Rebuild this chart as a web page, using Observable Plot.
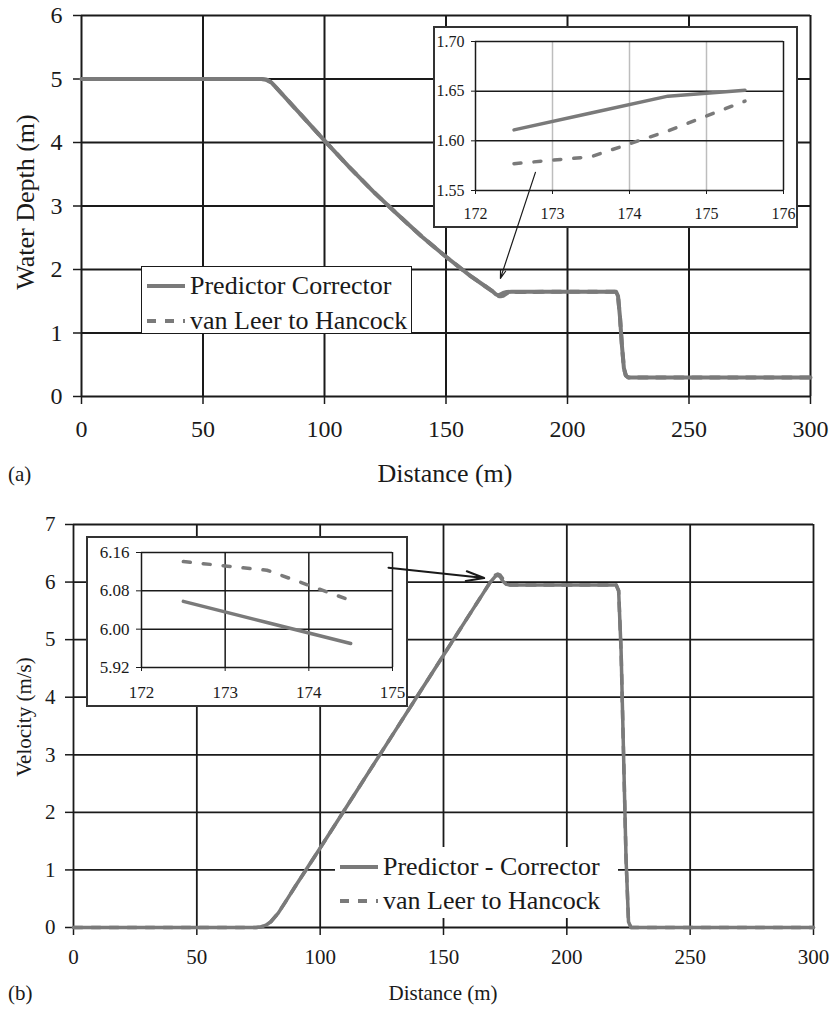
<!DOCTYPE html>
<html>
<head>
<meta charset="utf-8">
<script src="https://cdn.jsdelivr.net/npm/d3@7"></script>
<script src="https://cdn.jsdelivr.net/npm/@observablehq/plot@0.6"></script>
<style>
  body { margin: 0; background: #fff; }
  #fig { position: relative; width: 831px; height: 1009px; overflow: hidden;
         font-family: "Liberation Serif", "Times New Roman", serif; color: #1a1a1a; }
  .layer { position: absolute; }
  .layer svg { display: block; max-width: none; overflow: visible; }
  .txt { position: absolute; white-space: nowrap; line-height: 1; font-family: "Liberation Serif", serif; }
  .legend { position: absolute; background: #fff; box-sizing: border-box; font-family: "Liberation Serif", serif; }
  .legend .row { position: absolute; left: 0; display: flex; align-items: center; white-space: nowrap; line-height: 1; }
  .legend svg { display: block; }
</style>
</head>
<body>
<div id="fig"></div>
<script>
// ---------- (a) water depth along the channel ----------
const distA   = [0, 50, 74, 76, 78, 80, 85, 90, 100, 110, 120, 130, 140, 150, 160, 166, 169, 170.5, 171.5, 172.5, 173.5, 175, 177, 200, 220, 220.8, 221.6, 222.4, 223.2, 224, 225, 250, 300];
const depthPC = [5, 5, 5, 4.99, 4.95, 4.87, 4.66, 4.45, 4.03, 3.62, 3.23, 2.87, 2.52, 2.20, 1.90, 1.74, 1.66, 1.61, 1.59, 1.61, 1.63, 1.645, 1.65, 1.65, 1.65, 1.58, 1.25, 0.80, 0.45, 0.33, 0.30, 0.30, 0.30];
const depthVL = [5, 5, 5, 4.99, 4.95, 4.87, 4.66, 4.45, 4.03, 3.62, 3.23, 2.87, 2.52, 2.20, 1.90, 1.74, 1.66, 1.60, 1.58, 1.578, 1.585, 1.625, 1.645, 1.65, 1.65, 1.58, 1.25, 0.80, 0.45, 0.33, 0.30, 0.30, 0.30];
const xTicksA = [0, 50, 100, 150, 200, 250, 300];
const yTicksA = [0, 1, 2, 3, 4, 5, 6];

// zoomed window around the depression near 172-176 m
const zoomDistA = [172.5, 173.5, 174.5, 175.5];
const zoomDepthPC = [1.611, 1.628, 1.645, 1.651];
const zoomDepthVL = [1.577, 1.584, 1.610, 1.640];
const zoomXTicksA = [172, 173, 174, 175, 176];
const zoomYTicksA = [1.55, 1.60, 1.65, 1.70];

// ---------- (b) velocity along the channel ----------
const distB  = [0, 50, 74, 76, 78, 80, 83, 86, 90, 100, 110, 120, 130, 140, 150, 160, 166, 169, 171, 172, 173, 174, 175.5, 177, 200, 220, 221, 222, 223, 224, 225, 226, 250, 300];
const velPC  = [0, 0, 0, 0.01, 0.04, 0.10, 0.25, 0.45, 0.72, 1.38, 2.05, 2.72, 3.39, 4.06, 4.73, 5.40, 5.80, 6.00, 6.10, 6.12, 6.09, 6.02, 5.96, 5.95, 5.95, 5.95, 5.85, 4.80, 3.00, 1.20, 0.10, 0, 0, 0];
const velVL  = [0, 0, 0, 0.01, 0.04, 0.10, 0.25, 0.45, 0.72, 1.38, 2.05, 2.72, 3.39, 4.06, 4.73, 5.40, 5.80, 6.00, 6.12, 6.14, 6.12, 6.06, 5.97, 5.95, 5.95, 5.95, 5.85, 4.80, 3.00, 1.20, 0.10, 0, 0, 0];
const xTicksB = [0, 50, 100, 150, 200, 250, 300];
const yTicksB = [0, 1, 2, 3, 4, 5, 6, 7];

const zoomDistB = [172.5, 173.5, 174.5];
const zoomVelPC = [6.058, 6.014, 5.970];
const zoomVelVL = [6.141, 6.123, 6.060];
const zoomXTicksB = [172, 173, 174, 175];
const zoomYTicksB = [5.92, 6.00, 6.08, 6.16];

// series names
const seriesA = ["Predictor Corrector", "van Leer to Hancock"];
const seriesB = ["Predictor - Corrector", "van Leer to Hancock"];

// callout arrows from each zoom window to the feature it enlarges
const calloutA = [{x1: 186.8, y1: 3.53, x2: 172.4, y2: 1.86}];
const calloutB = [{x1: 127.7, y1: 6.25, x2: 166.5, y2: 6.07}];

// ---------- drawing ----------
const ink = "#1a1a1a";
const curve = "#7a7a7a";
const font = "Liberation Serif";
const fig = document.getElementById("fig");
const intFmt = d3.format("d");
const twoDp = d3.format(".2f");

const rowsA = distA.map((x, i) => ({x, pc: depthPC[i], vl: depthVL[i]}));
const rowsB = distB.map((x, i) => ({x, pc: velPC[i], vl: velVL[i]}));
const zRowsA = zoomDistA.map((x, i) => ({x, pc: zoomDepthPC[i], vl: zoomDepthVL[i]}));
const zRowsB = zoomDistB.map((x, i) => ({x, pc: zoomVelPC[i], vl: zoomVelVL[i]}));

function place(node, left, top) {
  const d = document.createElement("div");
  d.className = "layer";
  d.style.left = left + "px";
  d.style.top = top + "px";
  d.appendChild(node);
  fig.appendChild(d);
  return d;
}
function text(str, left, top, size, extra = "") {
  const d = document.createElement("div");
  d.className = "txt";
  d.textContent = str;
  d.style.cssText += `left:${left}px;top:${top}px;font-size:${size}px;${extra}`;
  fig.appendChild(d);
  return d;
}
function sample(dashed, w, sw) {
  const ns = "http://www.w3.org/2000/svg";
  const s = document.createElementNS(ns, "svg");
  s.setAttribute("width", w); s.setAttribute("height", 10);
  const l = document.createElementNS(ns, "line");
  l.setAttribute("x1", 0); l.setAttribute("x2", w);
  l.setAttribute("y1", 5); l.setAttribute("y2", 5);
  l.setAttribute("stroke", curve); l.setAttribute("stroke-width", sw);
  if (dashed) l.setAttribute("stroke-dasharray", "9,9");
  s.appendChild(l);
  return s;
}
function legend(names, left, top, w, h, rowCenters, size, bordered) {
  const box = document.createElement("div");
  box.className = "legend";
  box.style.cssText += `left:${left}px;top:${top}px;width:${w}px;height:${h}px;` +
    (bordered ? `border:1.5px solid ${ink};` : "");
  names.forEach((name, i) => {
    const row = document.createElement("div");
    row.className = "row";
    row.style.top = (rowCenters[i] - top - size / 2) + "px";
    row.style.height = size + "px";
    row.style.fontSize = size + "px";
    row.style.paddingLeft = "5px";
    const sw = sample(i === 1, 38, 4);
    sw.style.marginRight = "5px";
    row.appendChild(sw);
    row.appendChild(document.createTextNode(name));
    box.appendChild(row);
  });
  fig.appendChild(box);
}

// ----- panel (a) -----
const frameA = {width: 831, height: 500, marginLeft: 81, marginRight: 21, marginTop: 15, marginBottom: 104};
const plotA = Plot.plot({
  ...frameA,
  style: {fontFamily: font, fontSize: "24px", color: ink, background: "transparent", overflow: "visible"},
  x: {domain: [0, 300], label: null},
  y: {domain: [0, 6], label: null},
  marks: [
    Plot.gridX(xTicksA, {stroke: ink, strokeOpacity: 1, strokeWidth: 2}),
    Plot.gridY(yTicksA, {stroke: ink, strokeOpacity: 1, strokeWidth: 2}),
    Plot.axisX(xTicksA, {tickSize: 8, tickPadding: 15, strokeWidth: 1.5, tickFormat: intFmt, label: null}),
    Plot.axisY(yTicksA, {tickSize: 8, tickPadding: 11, strokeWidth: 1.5, tickFormat: intFmt, label: null}),
    Plot.line(rowsA, {x: "x", y: "vl", stroke: curve, strokeWidth: 4, strokeDasharray: "9,9"}),
    Plot.line(rowsA, {x: "x", y: "pc", stroke: curve, strokeWidth: 4, strokeLinejoin: "round"})
  ]
});
place(plotA, 0, 0);

text("Water Depth (m)", 26, 202, 26, "transform:translate(-50%,-50%) rotate(-90deg);");
text("Distance (m)", 445, 474, 26, "transform:translate(-50%,-50%);");
text("(a)", 8, 474, 21, "transform:translate(0,-50%);");

legend(seriesA, 141, 266, 271, 68, [285, 320], 26, true);

// zoom window for (a)
const insetA = Plot.plot({
  width: 363, height: 200, marginLeft: 41, marginRight: 14, marginTop: 14, marginBottom: 37,
  style: {fontFamily: font, fontSize: "16px", color: ink, background: "white", overflow: "visible",
          outline: "2px solid #333", outlineOffset: "-1px"},
  x: {domain: [172, 176], label: null},
  y: {domain: [1.55, 1.70], label: null},
  marks: [
    Plot.gridX([173, 174, 175], {stroke: "#bdbdbd", strokeOpacity: 1, strokeWidth: 1.5}),
    Plot.gridX([172, 176], {stroke: ink, strokeOpacity: 1, strokeWidth: 1.5}),
    Plot.gridY(zoomYTicksA, {stroke: ink, strokeOpacity: 1, strokeWidth: 1.5}),
    Plot.axisX(zoomXTicksA, {tickSize: 4, tickPadding: 13, tickFormat: intFmt, label: null}),
    Plot.axisY(zoomYTicksA, {tickSize: 4, tickPadding: 7, tickFormat: twoDp, label: null}),
    Plot.line(zRowsA, {x: "x", y: "pc", stroke: curve, strokeWidth: 3.5}),
    Plot.line(zRowsA, {x: "x", y: "vl", stroke: curve, strokeWidth: 3.5, strokeDasharray: "7,13"})
  ]
});
place(insetA, 434, 27);

// callout arrow for (a), drawn above the zoom window
const arrowA = Plot.plot({
  ...frameA,
  style: {background: "transparent", overflow: "visible"},
  x: {domain: [0, 300], axis: null},
  y: {domain: [0, 6], axis: null},
  marks: [
    Plot.arrow(calloutA, {x1: "x1", y1: "y1", x2: "x2", y2: "y2", stroke: ink, strokeWidth: 1.2, headLength: 11, headAngle: 35})
  ]
});
place(arrowA, 0, 0).style.pointerEvents = "none";

// ----- panel (b) -----
const frameB = {width: 831, height: 509, marginLeft: 73, marginRight: 18, marginTop: 24, marginBottom: 82};
const plotB = Plot.plot({
  ...frameB,
  style: {fontFamily: font, fontSize: "21px", color: ink, background: "transparent", overflow: "visible"},
  x: {domain: [0, 300], label: null},
  y: {domain: [0, 7], label: null},
  marks: [
    Plot.gridX(xTicksB, {stroke: ink, strokeOpacity: 1, strokeWidth: 1.8}),
    Plot.gridY(yTicksB, {stroke: ink, strokeOpacity: 1, strokeWidth: 1.8}),
    Plot.axisX(xTicksB, {tickSize: 8, tickPadding: 14, strokeWidth: 1.5, tickFormat: intFmt, label: null}),
    Plot.axisY(yTicksB, {tickSize: 8, tickPadding: 10, strokeWidth: 1.5, tickFormat: intFmt, label: null}),
    Plot.line(rowsB, {x: "x", y: "vl", stroke: curve, strokeWidth: 3.5, strokeDasharray: "9,9"}),
    Plot.line(rowsB, {x: "x", y: "pc", stroke: curve, strokeWidth: 3.5, strokeLinejoin: "round"})
  ]
});
place(plotB, 0, 500);

text("Velocity (m/s)", 24, 717, 21, "transform:translate(-50%,-50%) rotate(-90deg);");
text("Distance (m)", 443, 993, 21, "transform:translate(-50%,-50%);");
text("(b)", 8, 993, 21, "transform:translate(0,-50%);");

legend(seriesB, 335, 847, 283, 71, [867, 901], 26, false);

// zoom window for (b)
const insetB = Plot.plot({
  width: 320, height: 169, marginLeft: 54, marginRight: 15, marginTop: 15, marginBottom: 39,
  style: {fontFamily: font, fontSize: "17px", color: ink, background: "white", overflow: "visible",
          outline: "2px solid #333", outlineOffset: "-1px"},
  x: {domain: [172, 175], label: null},
  y: {domain: [5.92, 6.16], label: null},
  marks: [
    Plot.gridX(zoomXTicksB, {stroke: ink, strokeOpacity: 1, strokeWidth: 1.5}),
    Plot.gridY(zoomYTicksB, {stroke: ink, strokeOpacity: 1, strokeWidth: 1.5}),
    Plot.axisX(zoomXTicksB, {tickSize: 4, tickPadding: 14, tickFormat: intFmt, label: null}),
    Plot.axisY(zoomYTicksB, {tickSize: 5, tickPadding: 7, tickFormat: twoDp, label: null}),
    Plot.line(zRowsB, {x: "x", y: "pc", stroke: curve, strokeWidth: 3.5}),
    Plot.line(zRowsB, {x: "x", y: "vl", stroke: curve, strokeWidth: 3.5, strokeDasharray: "7,13"})
  ]
});
place(insetB, 87, 537);

// callout arrow for (b)
const arrowB = Plot.plot({
  ...frameB,
  style: {background: "transparent", overflow: "visible"},
  x: {domain: [0, 300], axis: null},
  y: {domain: [0, 7], axis: null},
  marks: [
    Plot.arrow(calloutB, {x1: "x1", y1: "y1", x2: "x2", y2: "y2", stroke: ink, strokeWidth: 2, headLength: 14, headAngle: 30})
  ]
});
place(arrowB, 0, 500).style.pointerEvents = "none";
</script>
</body>
</html>
